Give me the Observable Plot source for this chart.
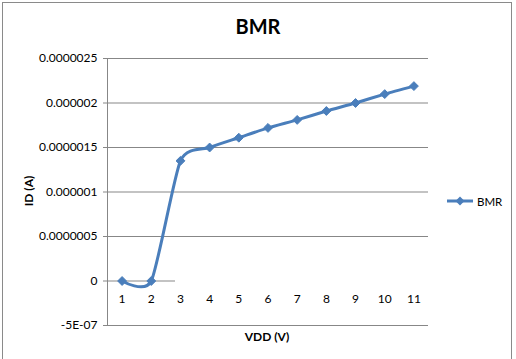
<!DOCTYPE html>
<html>
<head>
<meta charset="utf-8">
<script src="https://cdn.jsdelivr.net/npm/d3@7"></script>
<script src="https://cdn.jsdelivr.net/npm/@observablehq/plot@0.6"></script>
<style>
  html, body { margin: 0; padding: 0; background: #fff; overflow: hidden; }
  body { width: 516px; height: 359px; position: relative; font-family: Lato, "Open Sans", sans-serif; }
  #frame { position: absolute; left: 2px; top: 2px; width: 510px; height: 400px; border: 1px solid #8a8a8a; box-sizing: border-box; }
  #chart { position: absolute; left: 0; top: 0; }
  .title { position: absolute; left: 0; width: 516px; top: 14px; text-align: center; font-weight: bold; font-size: 20px; color: #000; }
  .ylab { position: absolute; left: 28px; top: 191px; transform: translate(-50%, -50%) rotate(-90deg); font-weight: bold; font-size: 12px; white-space: nowrap; }
  .xlab { position: absolute; left: 267px; top: 336px; transform: translate(-50%, -50%); font-weight: bold; font-size: 12px; white-space: nowrap; }
  .legend { position: absolute; left: 446px; top: 194px; display: flex; align-items: center; font-size: 11.5px; }
  .legend svg { margin-right: 3px; }
</style>
</head>
<body>
<div id="frame"></div>
<div id="chart"></div>
<div class="title">BMR</div>
<div class="ylab">ID (A)</div>
<div class="xlab">VDD (V)</div>
<div class="legend"><svg width="28" height="14"><line x1="1" y1="7" x2="27" y2="7" stroke="#4A7EBB" stroke-width="3"/><path d="M14,2.5L18.5,7L14,11.5L9.5,7Z" fill="#4A7EBB"/></svg><span>BMR</span></div>
<script>
const vdd = [1, 2, 3, 4, 5, 6, 7, 8, 9, 10, 11];
const idA = [0, 0, 1.35e-6, 1.5e-6, 1.61e-6, 1.72e-6, 1.81e-6, 1.91e-6, 2.0e-6, 2.1e-6, 2.19e-6];
const yTicks = [-5e-7, 0, 5e-7, 1e-6, 1.5e-6, 2e-6, 2.5e-6];
const yTickLabels = ["-5E-07", "0", "0.0000005", "0.000001", "0.0000015", "0.000002", "0.0000025"];
const xTickLabels = ["1", "2", "3", "4", "5", "6", "7", "8", "9", "10", "11"];

const data = vdd.map((v, i) => ({ vdd: v, id: idA[i] }));
const xLabelData = vdd.map((v, i) => ({ x: v, y: 0, label: xTickLabels[i] }));
const yLabelMap = new Map(yTicks.map((t, i) => [t, yTickLabels[i]]));
const color = "#4A7EBB";
const gridColor = "#878787";

const chart = Plot.plot({
  width: 516,
  height: 359,
  marginTop: 58,
  marginBottom: 34,
  marginLeft: 107,
  marginRight: 88,
  style: { fontFamily: "Lato, 'Open Sans', sans-serif", fontSize: "12px", background: "transparent", color: "#000" },
  x: { domain: [0.5, 11.5], axis: null },
  y: { domain: [-5e-7, 2.5e-6], axis: null },
  marks: [
    Plot.gridY(yTicks.filter(t => t !== 0), { stroke: gridColor, strokeOpacity: 1 }),
    Plot.ruleY([0], { stroke: gridColor, insetRight: 253 }),
    Plot.axisY(yTicks, { tickSize: 4, tickPadding: 6, stroke: gridColor, tickFormat: d => yLabelMap.get(d), fontSize: 12, fill: "#000" }),
    Plot.frame({ anchor: "left", stroke: gridColor }),
    Plot.text(xLabelData, { x: "x", y: "y", text: "label", dy: 18, fontSize: 12, fill: "#000" }),
    Plot.line(data, { x: "vdd", y: "id", stroke: color, strokeWidth: 3, curve: "cardinal", tension: 0.35 }),
    Plot.dot(data, { x: "vdd", y: "id", symbol: "diamond2", r: 4, fill: color, stroke: color, strokeWidth: 1 })
  ]
});
document.getElementById("chart").appendChild(chart);
</script>
</body>
</html>
